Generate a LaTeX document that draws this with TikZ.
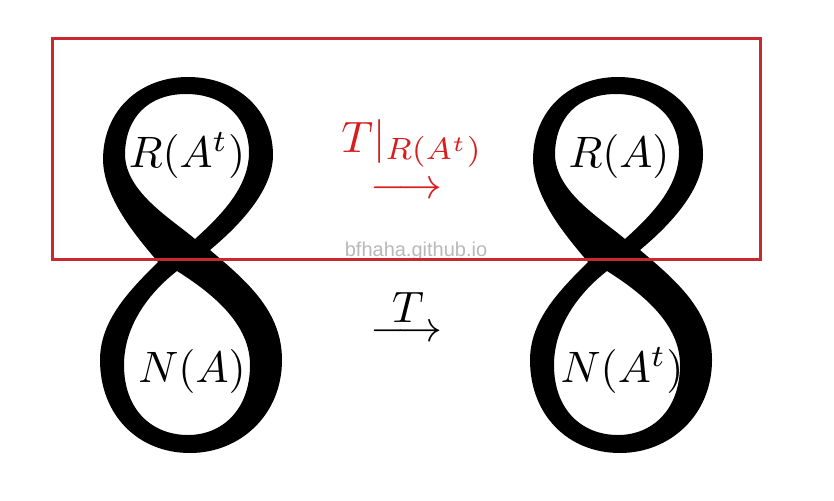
\documentclass[tikz,border=0pt]{standalone}
\usepackage{fontspec}
\newfontfamily\wmfont{Liberation Sans}
\definecolor{boxred}{RGB}{200,40,46}
\definecolor{txtred}{RGB}{215,30,30}
\definecolor{wmgray}{RGB}{185,185,185}
\newcommand\eightpath{%
  (188,77) .. controls (237,77) and (273,110) .. (273,155)
  .. controls (273,190) and (240,225) .. (210,250)
  .. controls (245,280) and (282,310) .. (282,360)
  .. controls (282,415) and (240,453) .. (190,453)
  .. controls (138,453) and (100,415) .. (100,360)
  .. controls (100,320) and (130,290) .. (158,262)
  .. controls (135,235) and (104,198) .. (103,160)
  .. controls (103,110) and (140,77) .. (188,77) -- cycle
  (186,94) .. controls (226,94) and (249,120) .. (249,152)
  .. controls (249,185) and (225,212) .. (195,239)
  .. controls (170,218) and (126,192) .. (125,155)
  .. controls (125,118) and (148,94) .. (186,94) -- cycle
  (177,271) .. controls (215,295) and (250,325) .. (250,365)
  .. controls (250,410) and (222,435) .. (188,435)
  .. controls (152,435) and (124,410) .. (124,365)
  .. controls (124,325) and (150,292) .. (177,271) -- cycle}
\newcommand\bigmath[1]{\scalebox{4.4}{$#1$}}
\newcommand\bigarrow{\scalebox{4.5}[4.3]{$\longrightarrow$}}
\begin{document}
\begin{tikzpicture}[x=1pt,y=-1pt,
  lbl/.style={anchor=base, inner sep=0pt},
  eightfill/.style={fill=black, even odd rule}]
\useasboundingbox (0,0) rectangle (834,500);
\fill[white] (0,0) rectangle (834,500);
% the two figure-eights
\fill[eightfill] \eightpath;
\begin{scope}[shift={(430,0)}]
  \fill[eightfill] \eightpath;
\end{scope}
% labels in the loops
\node[lbl] (rat) at (187,167) {\bigmath{R(A^t)}};
\node[lbl] (na)  at (192,382) {\bigmath{N(A)}};
\node[lbl] (ra)  at (619,167) {\bigmath{R(A)}};
\node[lbl] (nat) at (622,382) {\bigmath{N(A^t)}};
% red restricted map
\node[lbl, text=txtred] (trest) at (412,152) {\bigmath{T|_{R(A^t)}}};
\node[lbl, text=txtred] (arrred) at (406.5,198.5) {\bigarrow};
% black map
\node[lbl] (tmap) at (408,322) {\bigmath{T}};
\node[lbl] (arrblk) at (406.5,341.5) {\bigarrow};
% watermark
\node[anchor=base, inner sep=0pt, text=wmgray, font=\wmfont\fontsize{20}{24}\selectfont] (wm) at (416,256) {bfhaha.github.io};
% red frame
\draw[boxred, line width=3pt] (52,38.7) rectangle (760.7,259);
\end{tikzpicture}
\end{document}
